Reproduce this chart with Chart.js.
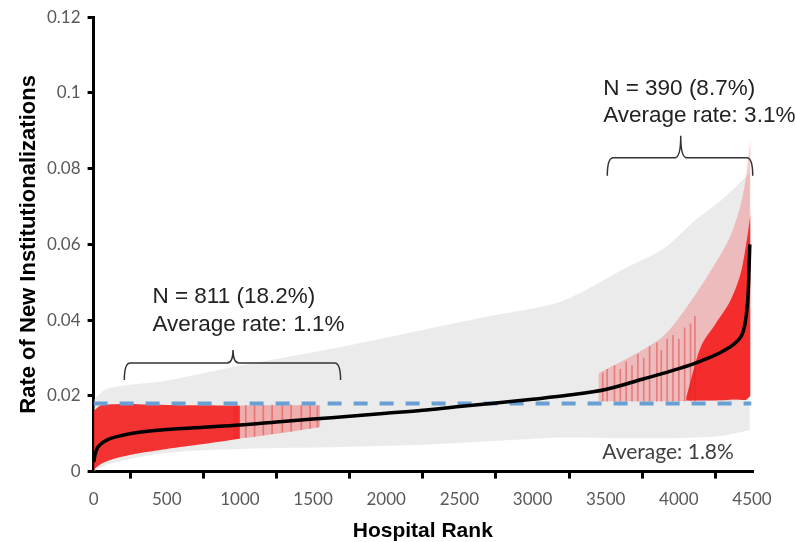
<!DOCTYPE html>
<html>
<head>
  <title>Rate of New Institutionalizations by Hospital Rank</title>
  <script src="https://cdn.jsdelivr.net/npm/chart.js@4.4.1/dist/chart.umd.min.js"></script>
  <style>
    body { margin: 0; background: #fff; }
    #wrap { width: 796px; height: 542px; }
  </style>
</head>
<body>
  <div id="wrap"><canvas id="myChart"></canvas></div>
<script>
    // Estimated rate per hospital, sorted by rank (black curve)
    const estRanks = [1, 10, 25, 50, 100, 200, 300, 500, 750, 1000, 1250, 1500, 1750, 2000, 2250, 2500, 2750, 3000, 3250, 3500, 3750, 4000, 4150, 4300, 4400, 4440, 4460, 4475, 4485];
    const estRates = [0.0025, 0.0045, 0.0062, 0.0073, 0.0085, 0.0096, 0.0103, 0.0111, 0.0117, 0.0123, 0.0131, 0.0139, 0.0146, 0.0154, 0.0162, 0.0172, 0.0181, 0.0191, 0.0202, 0.0217, 0.0244, 0.0272, 0.0292, 0.0318, 0.0345, 0.037, 0.041, 0.048, 0.060];

    // Confidence interval envelope of all hospitals (grey)
    const greyRanks = [1, 100, 500, 1000, 1700, 2200, 2700, 3200, 3650, 3900, 4100, 4300, 4485];
    const greyHigh = [0.019, 0.022, 0.024, 0.028, 0.033, 0.037, 0.041, 0.045, 0.054, 0.059, 0.066, 0.072, 0.079];
    const greyLow = [0.000, 0.002, 0.005, 0.006, 0.0065, 0.007, 0.008, 0.009, 0.0088, 0.0088, 0.009, 0.0095, 0.011];

    // Low outliers (red, below average)
    const redLowRanks = [1, 50, 150, 300, 500, 750, 1000];
    const redLowHigh = [0.016, 0.0175, 0.0178, 0.0178, 0.0176, 0.0175, 0.0174];
    const redLowLow = [0.0005, 0.002, 0.0035, 0.0048, 0.006, 0.0073, 0.0087];
    const redLowTailRanks = [950, 1250, 1550];
    const redLowTailHigh = [0.0174, 0.0175, 0.0175];
    const redLowTailLow = [0.0085, 0.0100, 0.0118];

    // High outliers (red, above average)
    const redHiRanks = [3450, 3700, 3900, 4100, 4250, 4350, 4420, 4460, 4490];
    const redHiHigh = [0.026, 0.031, 0.036, 0.046, 0.055, 0.062, 0.070, 0.078, 0.088];
    const redHiLow = [0.0186, 0.0186, 0.0186, 0.0187, 0.0188, 0.0188, 0.019, 0.019, 0.020];
    const redCoreRanks = [4050, 4150, 4250, 4350, 4420, 4460, 4490];
    const redCoreHigh = [0.0195, 0.033, 0.039, 0.045, 0.052, 0.060, 0.068];
    const redCoreLow = [0.0188, 0.0188, 0.0188, 0.019, 0.019, 0.019, 0.020];

    // single visible error bars in the sparse parts of both groups
    const barRanks = [1040, 1100, 1160, 1220, 1290, 1350, 1420, 1480, 1530, 3480, 3510, 3560, 3600, 3640, 3680, 3720, 3760, 3800, 3850, 3880, 3920, 3960, 4000, 4040, 4080, 4110];
    const barHigh = [0.0175, 0.0176, 0.0175, 0.0176, 0.0175, 0.0176, 0.0175, 0.0176, 0.0174, 0.026, 0.027, 0.028, 0.027, 0.029, 0.028, 0.031, 0.030, 0.033, 0.034, 0.032, 0.035, 0.036, 0.035, 0.038, 0.039, 0.041];
    const barLow = [0.0090, 0.0093, 0.0097, 0.0100, 0.0104, 0.0107, 0.0111, 0.0114, 0.0117, 0.0186, 0.0186, 0.0186, 0.0186, 0.0186, 0.0186, 0.0186, 0.0186, 0.0186, 0.0186, 0.0186, 0.0186, 0.0186, 0.0186, 0.0186, 0.0186, 0.0186];

    const averageRate = 0.018;
    const averageRanks = [0, 4495];

    function toXY(xs, ys) {
      return xs.map((x, i) => ({ x: x, y: ys[i] }));
    }

    function band(xs, hi, lo, color, order) {
      return [
        { data: toXY(xs, hi), fill: '+1', backgroundColor: color, borderWidth: 0, pointRadius: 0, tension: 0.3, order: order },
        { data: toXY(xs, lo), fill: false, borderWidth: 0, pointRadius: 0, tension: 0.3, order: order }
      ];
    }

    // Braces and labels
    function drawBrace(ctx, x1, x2, xm, yl, depth, peak) {
      const r = 6;
      ctx.beginPath();
      ctx.moveTo(x1, yl + depth);
      ctx.quadraticCurveTo(x1, yl, x1 + r, yl);
      ctx.lineTo(xm - r, yl);
      ctx.quadraticCurveTo(xm, yl, xm, yl - peak);
      ctx.moveTo(xm, yl - peak);
      ctx.quadraticCurveTo(xm, yl, xm + r, yl);
      ctx.lineTo(x2 - r, yl);
      ctx.quadraticCurveTo(x2, yl, x2, yl + depth);
      ctx.stroke();
    }

    const annotations = {
      id: 'annotations',
      afterDatasetsDraw(chart) {
        const ctx = chart.ctx;
        const x = chart.scales.x;
        const y = chart.scales.y;
        ctx.save();
        ctx.strokeStyle = '#333';
        ctx.lineWidth = 1.5;
        drawBrace(ctx, x.getPixelForValue(210), x.getPixelForValue(1688), x.getPixelForValue(953), y.getPixelForValue(0.0287), 17, 13);
        drawBrace(ctx, x.getPixelForValue(3511), x.getPixelForValue(4505), x.getPixelForValue(4013), y.getPixelForValue(0.0829), 18, 22);

        ctx.fillStyle = '#222';
        ctx.textBaseline = 'middle';
        ctx.textAlign = 'left';
        ctx.font = '22.5px "Liberation Sans", Arial, sans-serif';
        ctx.fillText('N = 811 (18.2%)', x.getPixelForValue(402), y.getPixelForValue(0.0461));
        ctx.fillText('Average rate: 1.1%', x.getPixelForValue(402), y.getPixelForValue(0.0387));
        ctx.fillText('N = 390 (8.7%)', x.getPixelForValue(3483), y.getPixelForValue(0.1011));
        ctx.fillText('Average rate: 3.1%', x.getPixelForValue(3483), y.getPixelForValue(0.0939));

        ctx.fillStyle = '#404040';
        ctx.font = '21px Lato, sans-serif';
        ctx.fillText('Average: 1.8%', x.getPixelForValue(3477), y.getPixelForValue(0.0050));
        ctx.restore();
      }
    };

    const datasets = [
      {
        data: toXY(estRanks, estRates),
        borderColor: '#000',
        borderWidth: 3.5,
        pointRadius: 0,
        fill: false,
        cubicInterpolationMode: 'monotone',
        order: 0
      },
      {
        data: averageRanks.map(r => ({ x: r, y: averageRate })),
        borderColor: '#6a9fd4',
        borderWidth: 4,
        borderDash: [14, 12],
        pointRadius: 0,
        fill: false,
        order: 1
      },
      {
        type: 'bar',
        data: barRanks.map((r, i) => ({ x: r, y: [barLow[i], barHigh[i]] })),
        backgroundColor: 'rgba(225, 30, 30, 0.4)',
        barThickness: 1,
        order: 2
      }
    ]
      .concat(band(redCoreRanks, redCoreHigh, redCoreLow, 'rgba(245, 25, 25, 0.88)', 3))
      .concat(band(redLowRanks, redLowHigh, redLowLow, 'rgba(245, 25, 25, 0.88)', 3))
      .concat(band(redLowTailRanks, redLowTailHigh, redLowTailLow, 'rgba(245, 60, 60, 0.35)', 4))
      .concat(band(redHiRanks, redHiHigh, redHiLow, 'rgba(240, 60, 60, 0.28)', 4))
      .concat(band(greyRanks, greyHigh, greyLow, 'rgba(215, 215, 215, 0.5)', 6));

    new Chart(document.getElementById('myChart'), {
      type: 'line',
      data: { datasets: datasets },
      options: {
        responsive: true,
        maintainAspectRatio: false,
        animation: false,
        layout: { padding: { left: 18, right: 44, top: 0, bottom: 0 } },
        plugins: {
          legend: { display: false },
          tooltip: { enabled: false }
        },
        scales: {
          x: {
            type: 'linear',
            min: 0,
            max: 4500,
            offset: false,
            ticks: { stepSize: 500, color: '#595959', font: { family: 'Lato', size: 17 }, padding: 11, maxRotation: 0, callback: v => String(v) },
            grid: { drawOnChartArea: false, color: '#000', lineWidth: 3, tickLength: 7 },
            border: { color: '#000', width: 3 },
            title: { display: true, text: 'Hospital Rank', color: '#000', font: { family: 'Liberation Sans', size: 21, weight: 'bold', lineHeight: 1 }, padding: { top: 0, bottom: 0 } }
          },
          y: {
            min: 0,
            max: 0.12,
            ticks: {
              stepSize: 0.02,
              color: '#595959',
              font: { family: 'Lato', size: 17 },
              padding: 7,
              callback: v => String(+v.toFixed(2))
            },
            grid: { drawOnChartArea: false, color: '#000', lineWidth: 3, tickLength: 6 },
            border: { color: '#000', width: 3 },
            title: { display: true, text: 'Rate of New Institutionalizations', color: '#000', font: { family: 'Liberation Sans', size: 22, weight: 'bold', lineHeight: 1 }, padding: { top: 0, bottom: 0 } }
          }
        }
      },
      plugins: [annotations]
    });
</script>
</body>
</html>
